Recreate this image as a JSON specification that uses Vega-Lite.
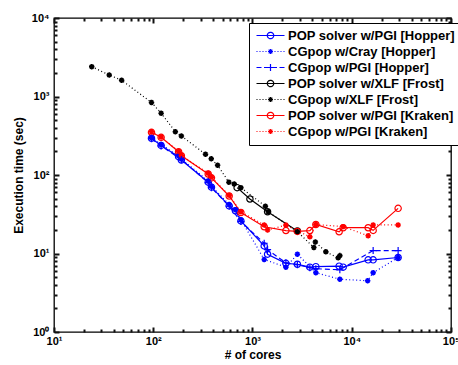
{
  "$schema": "https://vega.github.io/schema/vega-lite/v6.json",
  "width": 397,
  "height": 314,
  "autosize": {"type": "none"},
  "padding": {"left": 54, "top": 18, "right": 7, "bottom": 33},
  "background": "white",
  "config": {
    "view": {"stroke": "black", "strokeWidth": 1.3},
    "font": "Liberation Sans",
    "axis": {
      "labelFont": "Liberation Sans", "labelFontWeight": "bold", "labelFontSize": 11, "labelColor": "black",
      "titleFont": "Liberation Sans", "titleFontWeight": "bold", "titleFontSize": 12, "titleColor": "black",
      "domain": false, "grid": false
    },
    "legend": {
      "labelFont": "Liberation Sans", "labelFontWeight": "bold", "labelFontSize": 13, "labelColor": "black"
    }
  },
  "data": {"values": [
    {"series": "POP solver w/PGI [Hopper]", "cores": 96, "time": 294},
    {"series": "POP solver w/PGI [Hopper]", "cores": 120, "time": 238},
    {"series": "POP solver w/PGI [Hopper]", "cores": 180, "time": 171},
    {"series": "POP solver w/PGI [Hopper]", "cores": 192, "time": 155},
    {"series": "POP solver w/PGI [Hopper]", "cores": 358, "time": 81},
    {"series": "POP solver w/PGI [Hopper]", "cores": 386, "time": 70},
    {"series": "POP solver w/PGI [Hopper]", "cores": 582, "time": 40.5},
    {"series": "POP solver w/PGI [Hopper]", "cores": 673, "time": 35},
    {"series": "POP solver w/PGI [Hopper]", "cores": 764, "time": 26},
    {"series": "POP solver w/PGI [Hopper]", "cores": 1312, "time": 12.5},
    {"series": "POP solver w/PGI [Hopper]", "cores": 1419, "time": 9.8},
    {"series": "POP solver w/PGI [Hopper]", "cores": 2170, "time": 7.5},
    {"series": "POP solver w/PGI [Hopper]", "cores": 2833, "time": 7.3},
    {"series": "POP solver w/PGI [Hopper]", "cores": 3784, "time": 6.7},
    {"series": "POP solver w/PGI [Hopper]", "cores": 4348, "time": 6.8},
    {"series": "POP solver w/PGI [Hopper]", "cores": 7464, "time": 6.9},
    {"series": "POP solver w/PGI [Hopper]", "cores": 8193, "time": 6.7},
    {"series": "POP solver w/PGI [Hopper]", "cores": 14630, "time": 8.3},
    {"series": "POP solver w/PGI [Hopper]", "cores": 16430, "time": 8.3},
    {"series": "POP solver w/PGI [Hopper]", "cores": 29330, "time": 8.9},

    {"series": "CGpop w/Cray [Hopper]", "cores": 96, "time": 300},
    {"series": "CGpop w/Cray [Hopper]", "cores": 120, "time": 245},
    {"series": "CGpop w/Cray [Hopper]", "cores": 180, "time": 175},
    {"series": "CGpop w/Cray [Hopper]", "cores": 192, "time": 160},
    {"series": "CGpop w/Cray [Hopper]", "cores": 358, "time": 84},
    {"series": "CGpop w/Cray [Hopper]", "cores": 386, "time": 72},
    {"series": "CGpop w/Cray [Hopper]", "cores": 582, "time": 42},
    {"series": "CGpop w/Cray [Hopper]", "cores": 673, "time": 36},
    {"series": "CGpop w/Cray [Hopper]", "cores": 764, "time": 27},
    {"series": "CGpop w/Cray [Hopper]", "cores": 1312, "time": 8.4},
    {"series": "CGpop w/Cray [Hopper]", "cores": 2170, "time": 6.7},
    {"series": "CGpop w/Cray [Hopper]", "cores": 2833, "time": 9.8},
    {"series": "CGpop w/Cray [Hopper]", "cores": 4348, "time": 5.7},
    {"series": "CGpop w/Cray [Hopper]", "cores": 7586, "time": 4.7},
    {"series": "CGpop w/Cray [Hopper]", "cores": 14460, "time": 4.5},
    {"series": "CGpop w/Cray [Hopper]", "cores": 16430, "time": 5.7},
    {"series": "CGpop w/Cray [Hopper]", "cores": 29330, "time": 8.9},

    {"series": "CGpop w/PGI  [Hopper]", "cores": 96, "time": 290},
    {"series": "CGpop w/PGI  [Hopper]", "cores": 120, "time": 235},
    {"series": "CGpop w/PGI  [Hopper]", "cores": 192, "time": 157},
    {"series": "CGpop w/PGI  [Hopper]", "cores": 358, "time": 80},
    {"series": "CGpop w/PGI  [Hopper]", "cores": 386, "time": 69},
    {"series": "CGpop w/PGI  [Hopper]", "cores": 582, "time": 40},
    {"series": "CGpop w/PGI  [Hopper]", "cores": 764, "time": 25.5},
    {"series": "CGpop w/PGI  [Hopper]", "cores": 1312, "time": 13.5},
    {"series": "CGpop w/PGI  [Hopper]", "cores": 1419, "time": 11.2},
    {"series": "CGpop w/PGI  [Hopper]", "cores": 2170, "time": 7.6},
    {"series": "CGpop w/PGI  [Hopper]", "cores": 2833, "time": 7.2},
    {"series": "CGpop w/PGI  [Hopper]", "cores": 3784, "time": 6.6},
    {"series": "CGpop w/PGI  [Hopper]", "cores": 4348, "time": 6.4},
    {"series": "CGpop w/PGI  [Hopper]", "cores": 7586, "time": 6.2},
    {"series": "CGpop w/PGI  [Hopper]", "cores": 16430, "time": 10.9},
    {"series": "CGpop w/PGI  [Hopper]", "cores": 29330, "time": 10.9},

    {"series": "POP solver w/XLF [Frost]", "cores": 700, "time": 69},
    {"series": "POP solver w/XLF [Frost]", "cores": 942, "time": 49.5},
    {"series": "POP solver w/XLF [Frost]", "cores": 1419, "time": 34},
    {"series": "POP solver w/XLF [Frost]", "cores": 2833, "time": 19.4},

    {"series": "CGpop  w/XLF [Frost]", "cores": 24, "time": 2400},
    {"series": "CGpop  w/XLF [Frost]", "cores": 36, "time": 1880},
    {"series": "CGpop  w/XLF [Frost]", "cores": 48, "time": 1610},
    {"series": "CGpop  w/XLF [Frost]", "cores": 96, "time": 840},
    {"series": "CGpop  w/XLF [Frost]", "cores": 120, "time": 613},
    {"series": "CGpop  w/XLF [Frost]", "cores": 167, "time": 356},
    {"series": "CGpop  w/XLF [Frost]", "cores": 192, "time": 314},
    {"series": "CGpop  w/XLF [Frost]", "cores": 336, "time": 184},
    {"series": "CGpop  w/XLF [Frost]", "cores": 384, "time": 161},
    {"series": "CGpop  w/XLF [Frost]", "cores": 445, "time": 133},
    {"series": "CGpop  w/XLF [Frost]", "cores": 578, "time": 81},
    {"series": "CGpop  w/XLF [Frost]", "cores": 654, "time": 77},
    {"series": "CGpop  w/XLF [Frost]", "cores": 764, "time": 69},
    {"series": "CGpop  w/XLF [Frost]", "cores": 1349, "time": 40},
    {"series": "CGpop  w/XLF [Frost]", "cores": 1439, "time": 34},
    {"series": "CGpop  w/XLF [Frost]", "cores": 2833, "time": 19},
    {"series": "CGpop  w/XLF [Frost]", "cores": 4152, "time": 11.9},
    {"series": "CGpop  w/XLF [Frost]", "cores": 4299, "time": 14},
    {"series": "CGpop  w/XLF [Frost]", "cores": 5486, "time": 10.5},
    {"series": "CGpop  w/XLF [Frost]", "cores": 7295, "time": 8.8},
    {"series": "CGpop  w/XLF [Frost]", "cores": 7586, "time": 9.4},

    {"series": "POP solver w/PGI [Kraken]", "cores": 96, "time": 350},
    {"series": "POP solver w/PGI [Kraken]", "cores": 120, "time": 302},
    {"series": "POP solver w/PGI [Kraken]", "cores": 180, "time": 198},
    {"series": "POP solver w/PGI [Kraken]", "cores": 192, "time": 176},
    {"series": "POP solver w/PGI [Kraken]", "cores": 358, "time": 103},
    {"series": "POP solver w/PGI [Kraken]", "cores": 386, "time": 92},
    {"series": "POP solver w/PGI [Kraken]", "cores": 582, "time": 54},
    {"series": "POP solver w/PGI [Kraken]", "cores": 764, "time": 33.3},
    {"series": "POP solver w/PGI [Kraken]", "cores": 1312, "time": 21.9},
    {"series": "POP solver w/PGI [Kraken]", "cores": 2170, "time": 19.6},
    {"series": "POP solver w/PGI [Kraken]", "cores": 2833, "time": 19.1},
    {"series": "POP solver w/PGI [Kraken]", "cores": 3784, "time": 19.6},
    {"series": "POP solver w/PGI [Kraken]", "cores": 4348, "time": 23.4},
    {"series": "POP solver w/PGI [Kraken]", "cores": 7464, "time": 18.9},
    {"series": "POP solver w/PGI [Kraken]", "cores": 8193, "time": 21.3},
    {"series": "POP solver w/PGI [Kraken]", "cores": 14630, "time": 21.3},
    {"series": "POP solver w/PGI [Kraken]", "cores": 16430, "time": 19.7},
    {"series": "POP solver w/PGI [Kraken]", "cores": 29330, "time": 37.6},

    {"series": "CGpop  w/PGI [Kraken]", "cores": 96, "time": 355},
    {"series": "CGpop  w/PGI [Kraken]", "cores": 120, "time": 305},
    {"series": "CGpop  w/PGI [Kraken]", "cores": 180, "time": 200},
    {"series": "CGpop  w/PGI [Kraken]", "cores": 192, "time": 178},
    {"series": "CGpop  w/PGI [Kraken]", "cores": 358, "time": 105},
    {"series": "CGpop  w/PGI [Kraken]", "cores": 386, "time": 94},
    {"series": "CGpop  w/PGI [Kraken]", "cores": 582, "time": 55},
    {"series": "CGpop  w/PGI [Kraken]", "cores": 764, "time": 34},
    {"series": "CGpop  w/PGI [Kraken]", "cores": 1312, "time": 23.1},
    {"series": "CGpop  w/PGI [Kraken]", "cores": 1419, "time": 19.9},
    {"series": "CGpop  w/PGI [Kraken]", "cores": 2170, "time": 23},
    {"series": "CGpop  w/PGI [Kraken]", "cores": 3784, "time": 16.3},
    {"series": "CGpop  w/PGI [Kraken]", "cores": 4348, "time": 23.4},
    {"series": "CGpop  w/PGI [Kraken]", "cores": 8193, "time": 22},
    {"series": "CGpop  w/PGI [Kraken]", "cores": 14630, "time": 16.8},
    {"series": "CGpop  w/PGI [Kraken]", "cores": 16430, "time": 23.1},
    {"series": "CGpop  w/PGI [Kraken]", "cores": 29330, "time": 23.1}
  ]},
  "resolve": {"axis": {"x": "independent", "y": "independent"}},
  "layer": [
    {
      "mark": {"type": "point", "filled": false, "opacity": 0},
      "encoding": {
        "x": {"field": "cores", "type": "quantitative",
          "scale": {"type": "log", "domain": [10, 100000], "nice": false},
          "axis": {"orient": "bottom", "title": "# of cores", "titlePadding": 3,
            "values": [10, 100, 1000, 10000, 100000], "ticks": false,
            "labelExpr": "'10' + ['⁰','¹','²','³','⁴','⁵'][round(log(datum.value)/LN10)]",
            "labelPadding": 3, "labelFlush": false, "labelOverlap": false}},
        "y": {"field": "time", "type": "quantitative",
          "scale": {"type": "log", "domain": [1, 10000], "nice": false},
          "axis": {"orient": "left", "title": "Execution time (sec)", "titlePadding": 6,
            "values": [1, 10, 100, 1000, 10000], "ticks": false,
            "labelExpr": "'10' + ['⁰','¹','²','³','⁴','⁵'][round(log(datum.value)/LN10)]",
            "labelPadding": 5, "labelOverlap": false}},
        "color": {"field": "series", "type": "nominal",
          "scale": {"domain": ["POP solver w/PGI [Hopper]", "CGpop w/Cray [Hopper]", "CGpop w/PGI  [Hopper]", "POP solver w/XLF [Frost]", "CGpop  w/XLF [Frost]", "POP solver w/PGI [Kraken]", "CGpop  w/PGI [Kraken]"],
            "range": ["#0000ff", "#0000ff", "#0000ff", "#000000", "#000000", "#ff0000", "#ff0000"]},
          "legend": {"orient": "none", "legendX": 195, "legendY": 5, "title": null,
            "strokeColor": "black", "fillColor": "white", "padding": 6,
            "symbolSize": 100, "symbolStrokeWidth": 1.2, "symbolOpacity": 1, "symbolDash": [1, 0],
            "symbolOffset": 9, "labelOffset": 11, "rowPadding": 2, "labelLimit": 300}},
        "shape": {"field": "series", "type": "nominal",
          "scale": {"domain": ["POP solver w/PGI [Hopper]", "CGpop w/Cray [Hopper]", "CGpop w/PGI  [Hopper]", "POP solver w/XLF [Frost]", "CGpop  w/XLF [Frost]", "POP solver w/PGI [Kraken]", "CGpop  w/PGI [Kraken]"],
            "range": [
              "M-2.8,0L2.8,0M-0.64,0A0.64,0.64,0,1,0,0.64,0A0.64,0.64,0,1,0,-0.64,0",
              "M-2.8,0L-2.6,0M-2.2,0L-2,0M-1.6,0L-1.4,0M-1,0L-0.8,0M0.8,0L1,0M1.4,0L1.6,0M2,0L2.2,0M2.6,0L2.8,0M-0.5,0L0.5,0M0,-0.5L0,0.5M-0.36,-0.36L0.36,0.36M-0.36,0.36L0.36,-0.36",
              "M-2.8,0L-1.8,0M-1.3,0L-0.3,0M0.3,0L1.3,0M1.8,0L2.8,0M-0.7,0L0.7,0M0,-0.7L0,0.7",
              "M-2.8,0L2.8,0M-0.64,0A0.64,0.64,0,1,0,0.64,0A0.64,0.64,0,1,0,-0.64,0",
              "M-2.8,0L-2.6,0M-2.2,0L-2,0M-1.6,0L-1.4,0M-1,0L-0.8,0M0.8,0L1,0M1.4,0L1.6,0M2,0L2.2,0M2.6,0L2.8,0M-0.5,0L0.5,0M0,-0.5L0,0.5M-0.36,-0.36L0.36,0.36M-0.36,0.36L0.36,-0.36",
              "M-2.8,0L2.8,0M-0.64,0A0.64,0.64,0,1,0,0.64,0A0.64,0.64,0,1,0,-0.64,0",
              "M-2.8,0L-2.6,0M-2.2,0L-2,0M-1.6,0L-1.4,0M-1,0L-0.8,0M0.8,0L1,0M1.4,0L1.6,0M2,0L2.2,0M2.6,0L2.8,0M-0.5,0L0.5,0M0,-0.5L0,0.5M-0.36,-0.36L0.36,0.36M-0.36,0.36L0.36,-0.36"
            ]},
          "legend": {"orient": "none", "legendX": 195, "legendY": 5, "title": null}}
      }
    },
    {
      "transform": [{"filter": {"field": "series", "oneOf": ["POP solver w/PGI [Hopper]", "POP solver w/XLF [Frost]", "POP solver w/PGI [Kraken]"]}}],
      "mark": {"type": "line", "strokeWidth": 1.2},
      "encoding": {
        "x": {"field": "cores", "type": "quantitative",
          "axis": {"orient": "bottom", "title": null, "labels": false, "ticks": true, "tickColor": "#111111", "tickWidth": 2, "tickSize": -5,
            "values": [10, 100, 1000, 10000, 100000]}},
        "y": {"field": "time", "type": "quantitative",
          "axis": {"orient": "left", "title": null, "labels": false, "ticks": true, "tickColor": "#111111", "tickWidth": 2, "tickSize": -5,
            "values": [1, 10, 100, 1000, 10000]}},
        "color": {"field": "series", "type": "nominal"}
      }
    },
    {
      "transform": [{"filter": {"field": "series", "oneOf": ["CGpop w/Cray [Hopper]", "CGpop  w/XLF [Frost]", "CGpop  w/PGI [Kraken]"]}}],
      "mark": {"type": "line", "strokeWidth": 1.2, "strokeDash": [1, 2.5]},
      "encoding": {
        "x": {"field": "cores", "type": "quantitative",
          "axis": {"orient": "bottom", "title": null, "labels": false, "ticks": true, "tickColor": "#111111", "tickWidth": 2, "tickSize": -3,
            "values": [20,30,40,50,60,70,80,90,200,300,400,500,600,700,800,900,2000,3000,4000,5000,6000,7000,8000,9000,20000,30000,40000,50000,60000,70000,80000,90000]}},
        "y": {"field": "time", "type": "quantitative",
          "axis": {"orient": "left", "title": null, "labels": false, "ticks": true, "tickColor": "#111111", "tickWidth": 2, "tickSize": -3,
            "values": [2,3,4,5,6,7,8,9,20,30,40,50,60,70,80,90,200,300,400,500,600,700,800,900,2000,3000,4000,5000,6000,7000,8000,9000]}},
        "color": {"field": "series", "type": "nominal"}
      }
    },
    {
      "transform": [{"filter": {"field": "series", "oneOf": ["CGpop w/PGI  [Hopper]"]}}],
      "mark": {"type": "line", "strokeWidth": 1.2, "strokeDash": [5, 3]},
      "encoding": {
        "x": {"field": "cores", "type": "quantitative",
          "axis": {"orient": "top", "title": null, "labels": false, "ticks": true, "tickColor": "#111111", "tickWidth": 2, "tickSize": -5,
            "values": [10, 100, 1000, 10000, 100000]}},
        "y": {"field": "time", "type": "quantitative",
          "axis": {"orient": "right", "title": null, "labels": false, "ticks": true, "tickColor": "#111111", "tickWidth": 2, "tickSize": -5,
            "values": [1, 10, 100, 1000, 10000]}},
        "color": {"field": "series", "type": "nominal"}
      }
    },
    {
      "transform": [{"filter": {"field": "series", "oneOf": ["POP solver w/PGI [Hopper]", "POP solver w/XLF [Frost]", "POP solver w/PGI [Kraken]"]}}],
      "mark": {"type": "point", "shape": "circle", "filled": false, "size": 40, "strokeWidth": 1.2, "opacity": 1},
      "encoding": {
        "x": {"field": "cores", "type": "quantitative",
          "axis": {"orient": "top", "title": null, "labels": false, "ticks": true, "tickColor": "#111111", "tickWidth": 2, "tickSize": -3,
            "values": [20,30,40,50,60,70,80,90,200,300,400,500,600,700,800,900,2000,3000,4000,5000,6000,7000,8000,9000,20000,30000,40000,50000,60000,70000,80000,90000]}},
        "y": {"field": "time", "type": "quantitative",
          "axis": {"orient": "right", "title": null, "labels": false, "ticks": true, "tickColor": "#111111", "tickWidth": 2, "tickSize": -3,
            "values": [2,3,4,5,6,7,8,9,20,30,40,50,60,70,80,90,200,300,400,500,600,700,800,900,2000,3000,4000,5000,6000,7000,8000,9000]}},
        "color": {"field": "series", "type": "nominal"}
      }
    },
    {
      "transform": [{"filter": {"field": "series", "oneOf": ["CGpop w/Cray [Hopper]", "CGpop  w/XLF [Frost]", "CGpop  w/PGI [Kraken]"]}}],
      "mark": {"type": "point", "shape": "M-1,0L1,0M0,-1L0,1M-0.7,-0.7L0.7,0.7M-0.7,0.7L0.7,-0.7", "filled": false, "size": 30, "strokeWidth": 1.6, "opacity": 1},
      "encoding": {
        "x": {"field": "cores", "type": "quantitative", "axis": null},
        "y": {"field": "time", "type": "quantitative", "axis": null},
        "color": {"field": "series", "type": "nominal"}
      }
    },
    {
      "transform": [{"filter": {"field": "series", "oneOf": ["CGpop w/PGI  [Hopper]"]}}],
      "mark": {"type": "point", "shape": "M-1,0L1,0M0,-1L0,1", "filled": false, "size": 50, "strokeWidth": 1.2, "opacity": 1},
      "encoding": {
        "x": {"field": "cores", "type": "quantitative", "axis": null},
        "y": {"field": "time", "type": "quantitative", "axis": null},
        "color": {"field": "series", "type": "nominal"}
      }
    }
  ]
}
